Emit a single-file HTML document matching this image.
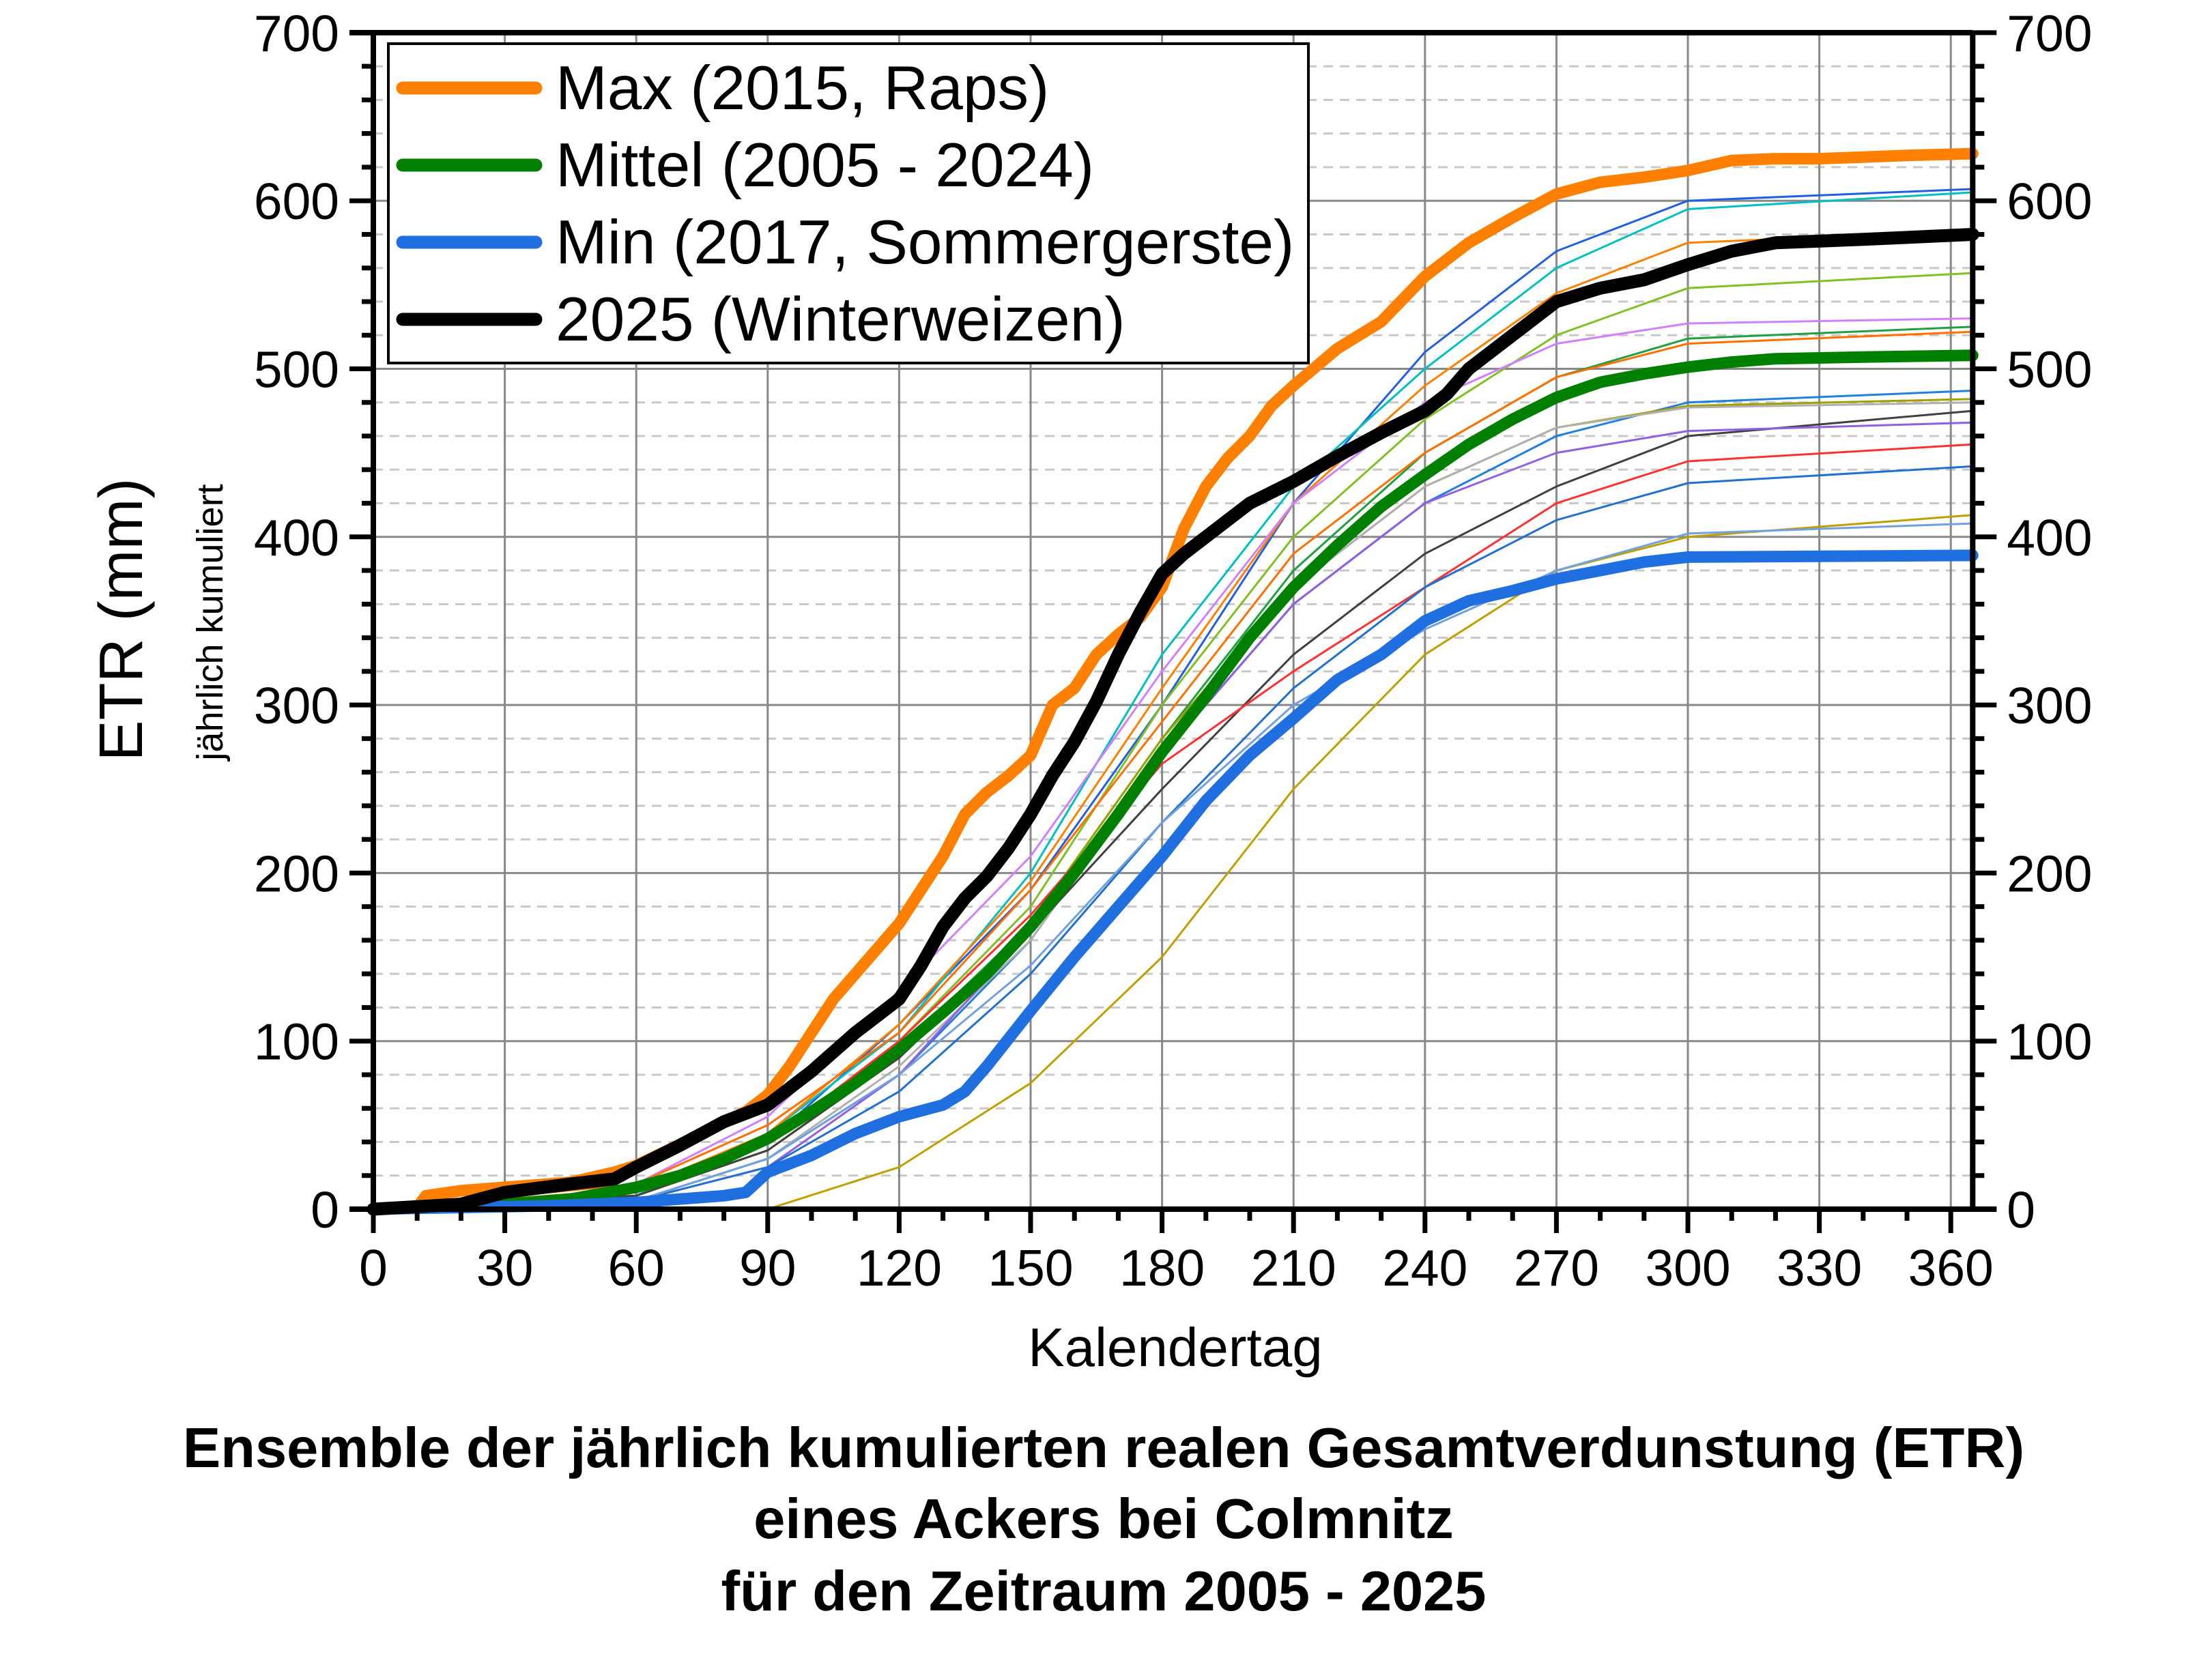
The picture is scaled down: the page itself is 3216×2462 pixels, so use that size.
<!DOCTYPE html>
<html><head><meta charset="utf-8"><style>
html,body{margin:0;padding:0;background:#fff}
svg{display:block;font-family:"Liberation Sans",Arial,sans-serif}
</style></head><body>
<svg id="chart" width="3216" height="2462" viewBox="0 0 3216 2462" xmlns="http://www.w3.org/2000/svg">
<g id="grid"></g>
<g id="series"></g>
<g id="axes"></g>
<g id="legend">
<rect x="569" y="64" width="1348" height="468" fill="#fff" stroke="#000" stroke-width="4"/>
<g><line x1="590" y1="129" x2="785" y2="129" stroke="#ff8000" stroke-width="19" stroke-linecap="round"/><text x="814" y="160" font-size="91">Max (2015, Raps)</text></g>
<g><line x1="590" y1="242" x2="785" y2="242" stroke="#008000" stroke-width="19" stroke-linecap="round"/><text x="814" y="273" font-size="91">Mittel (2005 - 2024)</text></g>
<g><line x1="590" y1="355" x2="785" y2="355" stroke="#1f6fe0" stroke-width="19" stroke-linecap="round"/><text x="814" y="386" font-size="91">Min (2017, Sommergerste)</text></g>
<g><line x1="590" y1="468" x2="785" y2="468" stroke="#000" stroke-width="19" stroke-linecap="round"/><text x="814" y="499" font-size="91">2025 (Winterweizen)</text></g>
</g>
<text transform="translate(208,908) rotate(-90)" text-anchor="middle" font-size="90">ETR (mm)</text>
<text transform="translate(326,912) rotate(-90)" text-anchor="middle" font-size="54">jährlich kumuliert</text>
<text x="1722" y="2002" text-anchor="middle" font-size="80">Kalendertag</text>
<g font-weight="bold" font-size="83" text-anchor="middle">
<text x="1617" y="2150">Ensemble der jährlich kumulierten realen Gesamtverdunstung (ETR)</text>
<text x="1617" y="2254">eines Ackers bei Colmnitz</text>
<text x="1617" y="2360">für den Zeitraum 2005 - 2025</text>
</g>
</svg>
<script>
const xTicks=[0,30,60,90,120,150,180,210,240,270,300,330,360];
const yTicks=[0,100,200,300,400,500,600,700];
const maxDays=[0,10,12,20,30,45,55,60,75,85,90,95,100,105,110,115,120,125,130,135,140,145,150,155,160,165,170,175,180,185,190,195,200,205,210,220,230,240,250,260,270,280,290,300,310,320,330,340,350,365];
const maxVals=[0,1,8,11,13,16,22,26,45,58,68,85,105,125,140,155,170,190,210,235,248,258,270,300,310,330,342,352,370,405,430,447,460,478,490,512,528,555,575,590,604,611,614,618,624,625,625,626,627,628];
const meanDays=[0,30,45,60,70,80,90,100,110,120,130,140,150,160,170,180,190,200,210,220,230,240,250,260,270,280,290,300,310,320,340,365];
const meanVals=[0,3,6,13,20,30,42,58,75,95,117,140,168,200,235,272,305,340,370,395,418,437,455,470,483,492,497,501,504,506,507,508];
const minDays=[0,40,60,70,80,85,90,100,110,120,130,135,140,150,160,170,180,190,200,210,220,230,240,250,260,270,280,290,300,365];
const minVals=[0,2,4,6,8,10,22,32,45,55,62,70,85,118,150,180,210,243,270,292,315,330,350,362,368,375,380,385,388,389];
const y25Days=[0,20,30,45,55,60,70,80,90,100,110,120,125,130,135,140,145,150,155,160,165,170,175,180,185,190,200,210,220,230,240,245,250,260,270,280,290,300,310,320,340,365];
const y25Vals=[0,3,10,15,18,25,38,52,62,82,105,125,145,168,185,198,215,235,258,278,302,330,355,378,390,400,420,433,448,462,475,485,500,520,540,548,553,562,570,575,577,580];
const thinDays=[0,60,90,120,150,180,210,240,270,300,365];
const thinColors=["#2060e0","#00c0c0","#ff8000","#80c020","#d080ff","#20a040","#ff7000","#2080e0","#a0a000","#b0b0b0","#404040","#9060e0","#ff3030","#2070d0","#c0a000","#70a0e0"];
const thin1=[0,10,40,110,190,300,420,510,570,600,607];
const thin2=[0,8,45,105,200,330,430,500,560,595,605];
const thin3=[0,12,45,110,195,310,420,490,545,575,582];
const thin4=[0,10,40,100,180,300,400,470,520,548,557];
const thin5=[0,15,55,130,210,320,420,480,515,527,530];
const thin6=[0,10,40,95,170,280,380,450,495,518,525];
const thin7=[0,15,50,105,190,290,390,450,495,515,522];
const thin8=[0,5,30,80,160,270,360,420,460,480,487];
const thin9=[0,8,35,90,170,280,370,430,465,478,482];
const thin10=[0,5,30,85,160,270,370,430,465,477,480];
const thin11=[0,8,35,90,165,250,330,390,430,460,475];
const thin12=[0,5,25,80,165,270,360,420,450,463,468];
const thin13=[0,10,40,100,175,265,320,370,420,445,455];
const thin14=[0,5,25,70,140,230,310,370,410,432,442];
const thin15=[0,0,0,25,75,150,250,330,380,400,413];
const thin16=[0,5,30,80,145,230,300,345,380,402,408];
const thinSeries=[thin1,thin2,thin3,thin4,thin5,thin6,thin7,thin8,thin9,thin10,thin11,thin12,thin13,thin14,thin15,thin16];

const X0=547,PX=6.42,Y0=1772,PY=2.463,XMAX=365,YMAX=700;
const sx=d=>X0+d*PX, sy=v=>Y0-v*PY;
const NS="http://www.w3.org/2000/svg";
function mk(tag,attrs,parent){const e=document.createElementNS(NS,tag);for(const k in attrs)e.setAttribute(k,attrs[k]);parent.appendChild(e);return e;}
const grid=document.getElementById('grid'),series=document.getElementById('series'),axes=document.getElementById('axes');
const L=sx(0),R=sx(XMAX),B=sy(0),T=sy(YMAX);
for(let v=20;v<YMAX;v+=20){if(v%100===0)continue;const l=mk('line',{x1:L,x2:R,y1:sy(v),y2:sy(v),stroke:'#c8c8c8','stroke-width':3,'stroke-dasharray':'14,10'},grid);

}
yTicks.forEach(v=>{const l=mk('line',{x1:L,x2:R,y1:sy(v),y2:sy(v),stroke:'#888','stroke-width':3},grid);

});
xTicks.forEach(d=>{const l=mk('line',{x1:sx(d),x2:sx(d),y1:T,y2:B,stroke:'#888','stroke-width':3},grid);

});
function draw(days,vals,color,w,name){const pts=days.map((d,i)=>sx(d).toFixed(1)+','+sy(vals[i]).toFixed(1)).join(' ');
const p=mk('polyline',{points:pts,fill:'none',stroke:color,'stroke-width':w,'stroke-linejoin':'round','stroke-linecap':'round'},series);

}
thinSeries.forEach((s,i)=>draw(thinDays,s,thinColors[i],3,'year-line'));
draw(meanDays,meanVals,'#008000',17,'mean-line');
draw(minDays,minVals,'#1f6fe0',17,'min-line');
draw(maxDays,maxVals,'#ff8000',17,'max-line');
draw(y25Days,y25Vals,'#000',19,'line-2025');
[[L,T,L,B],[R,T,R,B],[L-35,B,R+35,B],[L-35,T,R,T]].forEach(a=>{const l=mk('line',{x1:a[0],y1:a[1],x2:a[2],y2:a[3],stroke:'#000','stroke-width':8},axes);

});
for(let v=0;v<=YMAX;v+=20){const len=v%100===0?35:17;
const a=mk('line',{x1:L-len,x2:L,y1:sy(v),y2:sy(v),stroke:'#000','stroke-width':7},axes);


const b=mk('line',{x1:R,x2:R+len,y1:sy(v),y2:sy(v),stroke:'#000','stroke-width':7},axes);

}
for(let d=0;d<=XMAX;d+=10){const len=d%30===0?35:17;
const t=mk('line',{x1:sx(d),x2:sx(d),y1:B,y2:B+len,stroke:'#000','stroke-width':7},axes);

}
yTicks.forEach(v=>{const a=mk('text',{x:L-50,y:sy(v)+27,'text-anchor':'end','font-size':75},axes);a.textContent=v;


const b=mk('text',{x:R+50,y:sy(v)+27,'text-anchor':'start','font-size':75},axes);b.textContent=v;

});
xTicks.forEach(d=>{const t=mk('text',{x:sx(d),y:B+112,'text-anchor':'middle','font-size':75},axes);t.textContent=d;

});
</script>
</body></html>
